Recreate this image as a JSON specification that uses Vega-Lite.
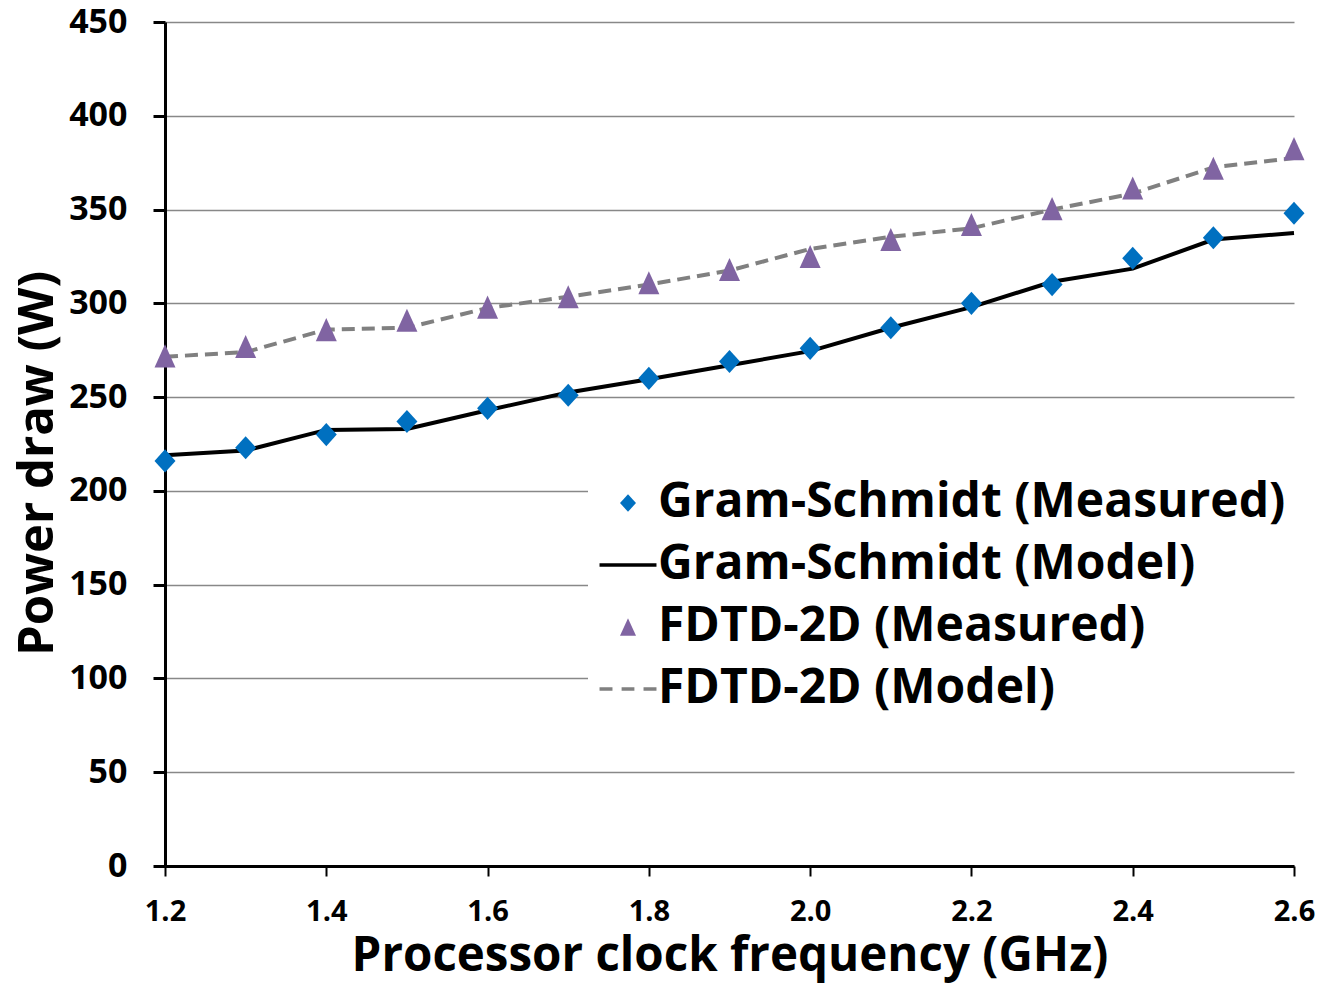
{
  "$schema": "https://vega.github.io/schema/vega-lite/v6.json",
  "width": 1129,
  "height": 844,
  "autosize": {"type": "none"},
  "padding": {"left": 165, "top": 22, "right": 26, "bottom": 117},
  "background": "white",
  "config": {
    "view": {"stroke": null},
    "font": "Open Sans",
    "axis": {"labelFont": "Open Sans", "labelFontWeight": "bold", "titleFont": "Open Sans", "titleFontWeight": "bold", "labelColor": "black", "titleColor": "black", "domainColor": "black", "tickColor": "black"},
    "legend": {"labelFont": "Open Sans", "labelFontWeight": "bold", "labelColor": "black"}
  },
  "data": {"values": [
    {"freq": 1.2, "power": 216, "series": "Gram-Schmidt (Measured)"},
    {"freq": 1.3, "power": 223, "series": "Gram-Schmidt (Measured)"},
    {"freq": 1.4, "power": 230, "series": "Gram-Schmidt (Measured)"},
    {"freq": 1.5, "power": 237, "series": "Gram-Schmidt (Measured)"},
    {"freq": 1.6, "power": 244, "series": "Gram-Schmidt (Measured)"},
    {"freq": 1.7, "power": 251, "series": "Gram-Schmidt (Measured)"},
    {"freq": 1.8, "power": 260, "series": "Gram-Schmidt (Measured)"},
    {"freq": 1.9, "power": 269, "series": "Gram-Schmidt (Measured)"},
    {"freq": 2.0, "power": 276, "series": "Gram-Schmidt (Measured)"},
    {"freq": 2.1, "power": 287, "series": "Gram-Schmidt (Measured)"},
    {"freq": 2.2, "power": 300, "series": "Gram-Schmidt (Measured)"},
    {"freq": 2.3, "power": 310, "series": "Gram-Schmidt (Measured)"},
    {"freq": 2.4, "power": 324, "series": "Gram-Schmidt (Measured)"},
    {"freq": 2.5, "power": 335, "series": "Gram-Schmidt (Measured)"},
    {"freq": 2.6, "power": 348, "series": "Gram-Schmidt (Measured)"},
    {"freq": 1.2, "power": 219, "series": "Gram-Schmidt (Model)"},
    {"freq": 1.3, "power": 221.5, "series": "Gram-Schmidt (Model)"},
    {"freq": 1.4, "power": 232.5, "series": "Gram-Schmidt (Model)"},
    {"freq": 1.5, "power": 233, "series": "Gram-Schmidt (Model)"},
    {"freq": 1.6, "power": 243, "series": "Gram-Schmidt (Model)"},
    {"freq": 1.7, "power": 252.5, "series": "Gram-Schmidt (Model)"},
    {"freq": 1.8, "power": 259.5, "series": "Gram-Schmidt (Model)"},
    {"freq": 1.9, "power": 267, "series": "Gram-Schmidt (Model)"},
    {"freq": 2.0, "power": 274.5, "series": "Gram-Schmidt (Model)"},
    {"freq": 2.1, "power": 287, "series": "Gram-Schmidt (Model)"},
    {"freq": 2.2, "power": 298, "series": "Gram-Schmidt (Model)"},
    {"freq": 2.3, "power": 311.5, "series": "Gram-Schmidt (Model)"},
    {"freq": 2.4, "power": 318.5, "series": "Gram-Schmidt (Model)"},
    {"freq": 2.5, "power": 334, "series": "Gram-Schmidt (Model)"},
    {"freq": 2.6, "power": 337.5, "series": "Gram-Schmidt (Model)"},
    {"freq": 1.2, "power": 272, "series": "FDTD-2D (Measured)"},
    {"freq": 1.3, "power": 277, "series": "FDTD-2D (Measured)"},
    {"freq": 1.4, "power": 286, "series": "FDTD-2D (Measured)"},
    {"freq": 1.5, "power": 291, "series": "FDTD-2D (Measured)"},
    {"freq": 1.6, "power": 298, "series": "FDTD-2D (Measured)"},
    {"freq": 1.7, "power": 303.5, "series": "FDTD-2D (Measured)"},
    {"freq": 1.8, "power": 311, "series": "FDTD-2D (Measured)"},
    {"freq": 1.9, "power": 318, "series": "FDTD-2D (Measured)"},
    {"freq": 2.0, "power": 325, "series": "FDTD-2D (Measured)"},
    {"freq": 2.1, "power": 334, "series": "FDTD-2D (Measured)"},
    {"freq": 2.2, "power": 342, "series": "FDTD-2D (Measured)"},
    {"freq": 2.3, "power": 350.5, "series": "FDTD-2D (Measured)"},
    {"freq": 2.4, "power": 361.5, "series": "FDTD-2D (Measured)"},
    {"freq": 2.5, "power": 372, "series": "FDTD-2D (Measured)"},
    {"freq": 2.6, "power": 382.5, "series": "FDTD-2D (Measured)"},
    {"freq": 1.2, "power": 271.5, "series": "FDTD-2D (Model)"},
    {"freq": 1.3, "power": 274, "series": "FDTD-2D (Model)"},
    {"freq": 1.4, "power": 286, "series": "FDTD-2D (Model)"},
    {"freq": 1.5, "power": 287, "series": "FDTD-2D (Model)"},
    {"freq": 1.6, "power": 297.5, "series": "FDTD-2D (Model)"},
    {"freq": 1.7, "power": 303.5, "series": "FDTD-2D (Model)"},
    {"freq": 1.8, "power": 310, "series": "FDTD-2D (Model)"},
    {"freq": 1.9, "power": 317.5, "series": "FDTD-2D (Model)"},
    {"freq": 2.0, "power": 329, "series": "FDTD-2D (Model)"},
    {"freq": 2.1, "power": 335.5, "series": "FDTD-2D (Model)"},
    {"freq": 2.2, "power": 340, "series": "FDTD-2D (Model)"},
    {"freq": 2.3, "power": 350, "series": "FDTD-2D (Model)"},
    {"freq": 2.4, "power": 358.5, "series": "FDTD-2D (Model)"},
    {"freq": 2.5, "power": 372.5, "series": "FDTD-2D (Model)"},
    {"freq": 2.6, "power": 377.5, "series": "FDTD-2D (Model)"}
  ]},
  "encoding": {
    "x": {
      "field": "freq", "type": "quantitative",
      "scale": {"domain": [1.2, 2.6], "nice": false, "zero": false},
      "axis": {
        "title": "Processor clock frequency (GHz)",
        "values": [1.2, 1.4, 1.6, 1.8, 2.0, 2.2, 2.4, 2.6],
        "format": ".1f",
        "grid": false,
        "domainWidth": 3,
        "tickSize": 10, "tickWidth": 2,
        "labelFontSize": 29, "labelPadding": 21,
        "labelFlush": false, "labelOverlap": false,
        "titleFontSize": 47.5, "titleBaseline": "middle", "titleY": 90
      }
    },
    "y": {
      "field": "power", "type": "quantitative",
      "scale": {"domain": [0, 450], "nice": false},
      "axis": {
        "title": "Power draw (W)",
        "values": [0, 50, 100, 150, 200, 250, 300, 350, 400, 450],
        "grid": true, "gridColor": "#888888", "gridWidth": 1.3,
        "domainWidth": 3,
        "tickSize": 12, "tickWidth": 3,
        "labelFontSize": 34, "labelPadding": 26, "labelFlush": false, "labelOverlap": false,
        "titleFontSize": 49, "titleAngle": -90, "titleBaseline": "middle", "titleX": -128, "titleY": 441
      }
    }
  },
  "layer": [
    {
      "transform": [{"filter": "datum.series === 'Gram-Schmidt (Model)'"}],
      "mark": {"type": "line", "color": "black", "strokeWidth": 4}
    },
    {
      "transform": [{"filter": "datum.series === 'FDTD-2D (Model)'"}],
      "mark": {"type": "line", "color": "#808080", "strokeWidth": 4, "strokeDash": [13, 7]}
    },
    {
      "transform": [{"filter": "indexof(datum.series, 'Measured') >= 0"}],
      "mark": {"type": "point", "filled": true, "opacity": 1, "size": 441, "strokeWidth": 0},
      "encoding": {
        "color": {
          "field": "series", "type": "nominal",
          "scale": {
            "domain": ["Gram-Schmidt (Measured)", "Gram-Schmidt (Model)", "FDTD-2D (Measured)", "FDTD-2D (Model)"],
            "range": ["#0070C0", "#000000", "#8064A2", "#808080"]
          },
          "legend": {
            "title": null,
            "orient": "none", "legendX": 423, "legendY": 447,
            "fillColor": "white", "padding": 10,
            "symbolSize": 256, "symbolOffset": 6, "labelOffset": 6,
            "labelFontSize": 48, "labelLimit": 1000, "rowPadding": 14,
            "symbolOpacity": 1,
            "encode": {
              "symbols": {
                "update": {
                  "fill": {"signal": "indexof(datum.value, 'Model') >= 0 ? 'transparent' : scale('color', datum.value)"},
                  "stroke": {"signal": "indexof(datum.value, 'Model') >= 0 ? scale('color', datum.value) : 'transparent'"},
                  "strokeWidth": {"value": 3.5},
                  "opacity": {"value": 1}
                }
              }
            }
          }
        },
        "shape": {
          "field": "series", "type": "nominal",
          "scale": {
            "domain": ["Gram-Schmidt (Measured)", "Gram-Schmidt (Model)", "FDTD-2D (Measured)", "FDTD-2D (Model)"],
            "range": ["M0,-1.1L1,0L0,1.1L-1,0Z", "M-3.56,0H3.56", "M0,-1.1L-1,1.1L1,1.1Z", "M-3.56,0H-1.94M-0.8,0H0.8M1.94,0H3.56"]
          },
          "legend": {
            "title": null,
            "orient": "none", "legendX": 423, "legendY": 447,
            "fillColor": "white", "padding": 10,
            "symbolSize": 256, "symbolOffset": 6, "labelOffset": 6,
            "labelFontSize": 48, "labelLimit": 1000, "rowPadding": 14,
            "symbolOpacity": 1
          }
        }
      }
    }
  ]
}
